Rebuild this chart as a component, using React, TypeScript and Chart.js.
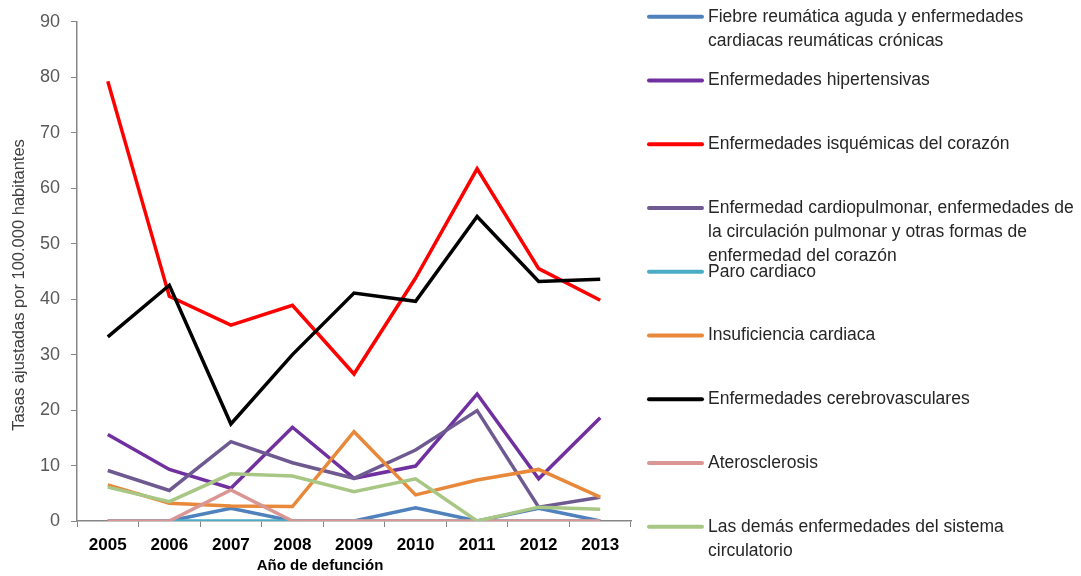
import React, { useEffect, useRef } from "react";
import { Chart, registerables } from "chart.js";

Chart.register(...registerables);

// ---------- data ----------
const years = ["2005", "2006", "2007", "2008", "2009", "2010", "2011", "2012", "2013"];

const seriesLabels: string[][] = [
  ["Fiebre reumática aguda y enfermedades", "cardiacas reumáticas crónicas"],
  ["Enfermedades hipertensivas"],
  ["Enfermedades isquémicas del corazón"],
  ["Enfermedad cardiopulmonar, enfermedades de", "la circulación pulmonar y otras formas de", "enfermedad del corazón"],
  ["Paro cardiaco"],
  ["Insuficiencia cardiaca"],
  ["Enfermedades cerebrovasculares"],
  ["Aterosclerosis"],
  ["Las demás enfermedades del sistema", "circulatorio"],
];

const fiebre = [0, 0, 2.3, 0, 0, 2.4, 0, 2.3, 0];
const hipertensivas = [15.6, 9.3, 5.9, 16.9, 7.7, 9.9, 22.9, 7.6, 18.6];
const isquemicas = [79.3, 40.5, 35.3, 38.9, 26.5, 43.8, 63.5, 45.5, 39.8];
const cardiopulmonar = [9.1, 5.5, 14.3, 10.5, 7.7, 12.8, 19.9, 2.5, 4.3];
const paro = [0, 0, 0, 0, 0, 0, 0, 0, 0];
const insuficiencia = [6.5, 3.2, 2.7, 2.6, 16.1, 4.7, 7.4, 9.3, 4.3];
const cerebrovasculares = [33.2, 42.5, 17.5, 30.0, 41.1, 39.6, 54.9, 43.2, 43.6];
const aterosclerosis = [0, 0, 5.6, 0, 0, 0, 0, 0, 0];
const demas = [6.1, 3.5, 8.5, 8.1, 5.3, 7.6, 0, 2.5, 2.1];

const seriesValues = [
  fiebre, hipertensivas, isquemicas, cardiopulmonar, paro,
  insuficiencia, cerebrovasculares, aterosclerosis, demas,
];

const seriesColors = [
  "#4F81BD", "#7030A0", "#FF0000", "#6E5A91", "#4BACC6",
  "#E8883A", "#000000", "#D99694", "#A8C784",
];

const yTicks = [0, 10, 20, 30, 40, 50, 60, 70, 80, 90];
const yTitle = "Tasas ajustadas por 100.000 habitantes";
const xTitle = "Año de defunción";

const FONT = "'Liberation Sans', Arial, sans-serif";

const overlayPlugin = {
  id: "overlay",
  afterDraw(chart: any) {
    const ctx = chart.ctx as CanvasRenderingContext2D;
    ctx.save();
    // y title
    ctx.fillStyle = "#404040";
    ctx.font = `16.5px ${FONT}`;
    ctx.textAlign = "center";
    ctx.textBaseline = "middle";
    ctx.translate(19, 285);
    ctx.rotate(-Math.PI / 2);
    ctx.fillText(yTitle, 0, 0);
    ctx.restore();

    ctx.save();
    // x title
    ctx.fillStyle = "#000000";
    ctx.font = `bold 15px ${FONT}`;
    ctx.textAlign = "center";
    ctx.textBaseline = "middle";
    ctx.fillText(xTitle, 320, 566);

    // legend
    const top = 16.7;
    const step = 63.75;
    ctx.textAlign = "left";
    ctx.font = `17.5px ${FONT}`;
    chart.data.datasets.forEach((ds: any, i: number) => {
      const y = top + i * step;
      ctx.strokeStyle = ds.borderColor;
      ctx.lineWidth = 4;
      ctx.lineCap = "round";
      ctx.beginPath();
      ctx.moveTo(649, y);
      ctx.lineTo(702, y);
      ctx.stroke();
      ctx.fillStyle = "#262626";
      seriesLabels[i].forEach((line, j) => {
        ctx.fillText(line, 708, y + j * 24);
      });
    });
    ctx.restore();
  },
};

export default function App() {
  const canvasRef = useRef<HTMLCanvasElement | null>(null);

  useEffect(() => {
    if (!canvasRef.current) return;
    const chart = new Chart(canvasRef.current, {
      type: "line",
      data: {
        labels: years,
        datasets: seriesValues.map((vals, i) => ({
          label: seriesLabels[i].join(" "),
          data: vals,
          borderColor: seriesColors[i],
          backgroundColor: seriesColors[i],
          borderWidth: 3.5,
          pointRadius: 0,
          tension: 0,
          fill: false,
          order: seriesValues.length - i,
        })),
      },
      options: {
        animation: false,
        responsive: false,
        maintainAspectRatio: false,
        layout: { padding: { left: 0, right: 450, top: 21, bottom: 0 } },
        plugins: {
          legend: { display: false },
          tooltip: { enabled: false },
          title: { display: false },
        },
        scales: {
          x: {
            type: "category",
            offset: true,
            grid: {
              offset: true,
              drawOnChartArea: false,
              drawTicks: true,
              tickLength: 6,
              color: "#868686",
              lineWidth: 1,
            },
            border: { display: true, color: "#868686", width: 1.5 },
            ticks: {
              color: "#000000",
              font: { family: FONT, size: 17, weight: "bold" },
              padding: 8,
              maxRotation: 0,
              autoSkip: false,
            },
            afterFit: (scale: any) => {
              scale.height = 55;
            },
          },
          y: {
            min: 0,
            max: 90,
            afterBuildTicks: (scale: any) => {
              scale.ticks = yTicks.map((v) => ({ value: v }));
            },
            grid: {
              drawOnChartArea: false,
              drawTicks: true,
              tickLength: 6,
              color: "#868686",
              lineWidth: 1,
            },
            border: { display: true, color: "#868686", width: 1.5 },
            ticks: {
              color: "#595959",
              font: { family: FONT, size: 18 },
              padding: 11,
            },
            afterFit: (scale: any) => {
              scale.width = 77;
            },
          },
        },
      },
      plugins: [overlayPlugin],
    });
    return () => chart.destroy();
  }, []);

  return (
    <div style={{ position: "fixed", left: 0, top: 0, width: 1081, height: 576, background: "#ffffff" }}>
      <canvas ref={canvasRef} width={1081} height={576} style={{ width: 1081, height: 576, display: "block" }} />
    </div>
  );
}
